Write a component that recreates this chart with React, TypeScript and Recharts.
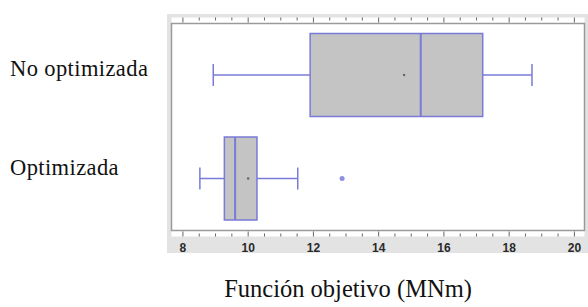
import { ComposedChart, Bar, XAxis, YAxis, CartesianGrid, ReferenceArea } from "recharts";

const categories = ["No optimizada", "Optimizada"];
const whiskerLow = [8.93, 8.52];
const q1 = [11.9, 9.27];
const median = [15.29, 9.6];
const q3 = [17.19, 10.27];
const whiskerHigh = [18.7, 11.52];
const means = [14.78, 10.0];
const outliers: number[][] = [[], [12.88]];

const xTicks = [8, 8.5, 9, 9.5, 10, 10.5, 11, 11.5, 12, 12.5, 13, 13.5, 14, 14.5, 15, 15.5, 16, 16.5, 17, 17.5, 18, 18.5, 19, 19.5, 20];
const xLabels = [8, 10, 12, 14, 16, 18, 20];
const xDomain = [7.65, 20.31];

const data = categories.map((name, i) => ({
  name,
  low: whiskerLow[i],
  q1: q1[i],
  median: median[i],
  q3: q3[i],
  high: whiskerHigh[i],
  mean: means[i],
  outliers: outliers[i],
}));

const BOX_STROKE = "#7a7ad8";
const BOX_FILL = "#c4c4c4";

function BoxShape(props: any) {
  const { x, y, width, height, payload } = props;
  const k = width / (payload.high - payload.low);
  const px = (v: number) => x + (v - payload.low) * k;
  const cy = y + height / 2;
  const cap = 11;
  return (
    <g>
      <line x1={px(payload.low)} x2={px(payload.q1)} y1={cy} y2={cy} stroke={BOX_STROKE} strokeWidth={1.5} />
      <line x1={px(payload.q3)} x2={px(payload.high)} y1={cy} y2={cy} stroke={BOX_STROKE} strokeWidth={1.5} />
      <line x1={px(payload.low)} x2={px(payload.low)} y1={cy - cap} y2={cy + cap} stroke={BOX_STROKE} strokeWidth={1.5} />
      <line x1={px(payload.high)} x2={px(payload.high)} y1={cy - cap} y2={cy + cap} stroke={BOX_STROKE} strokeWidth={1.5} />
      <rect
        x={px(payload.q1)}
        y={y}
        width={px(payload.q3) - px(payload.q1)}
        height={height}
        fill={BOX_FILL}
        stroke={BOX_STROKE}
        strokeWidth={1.5}
      />
      <line x1={px(payload.median)} x2={px(payload.median)} y1={y} y2={y + height} stroke={BOX_STROKE} strokeWidth={2} />
      <circle cx={px(payload.mean)} cy={cy} r={1.2} fill="#666" />
      {payload.outliers.map((o: number, i: number) => (
        <circle key={i} cx={px(o)} cy={cy} r={2.5} fill="#9090e0" />
      ))}
    </g>
  );
}

function BottomTick(props: any) {
  const { x, y, payload } = props;
  const major = xLabels.includes(payload.value);
  return (
    <g>
      <line x1={x} x2={x} y1={y} y2={y - (major ? 5 : 3)} stroke="#666" />
      {major && (
        <text
          x={x}
          y={y + 15}
          textAnchor="middle"
          fontSize={12}
          fontWeight="bold"
          fontFamily="Liberation Sans, Arial"
          fill="#2a2a2a"
        >
          {payload.value}
        </text>
      )}
    </g>
  );
}

function TopTick(props: any) {
  const { x, y, payload } = props;
  const major = xLabels.includes(payload.value);
  return <line x1={x} x2={x} y1={y} y2={y + (major ? 5 : 3)} stroke="#666" />;
}

const labelShift = [1, -3.5];

function CategoryTick(props: any) {
  const { y, payload, index } = props;
  return (
    <text
      x={10}
      y={y + labelShift[index]}
      fontSize={22.5}
      letterSpacing={0.4}
      fontFamily="Liberation Serif, Times New Roman, serif"
      fill="#111"
    >
      {payload.value}
    </text>
  );
}

function AxisTitle(props: any) {
  const { viewBox } = props;
  return (
    <text
      x={viewBox.x + viewBox.width / 2 - 30}
      y={296.5}
      textAnchor="middle"
      fontSize={24.5}
      fontFamily="Liberation Serif, Times New Roman, serif"
      fill="#111"
    >
      Función objetivo (MNm)
    </text>
  );
}

export default function App() {
  return (
    <div style={{ position: "absolute", left: 0, top: 0, width: 588, height: 307, background: "#fff" }}>
      <div style={{ position: "absolute", left: 167, top: 14, width: 421, height: 239, background: "#e3e3e3" }} />
      <div style={{ position: "absolute", left: 0, top: 0 }}>
        <ComposedChart
          width={588}
          height={307}
          data={data}
          layout="vertical"
          margin={{ top: 16.5, right: 3.5, bottom: 0, left: 0 }}
        >
          <CartesianGrid fill="#fff" horizontal={false} vertical={false} />
          <XAxis
            type="number"
            domain={xDomain}
            allowDataOverflow
            ticks={xTicks}
            interval={0}
            height={70.5}
            axisLine={false}
            tickLine={false}
            tickSize={0}
            tickMargin={0}
            tick={<BottomTick />}
            label={<AxisTitle />}
          />
          <XAxis
            xAxisId="top"
            orientation="top"
            type="number"
            domain={xDomain}
            allowDataOverflow
            ticks={xTicks}
            interval={0}
            height={1}
            axisLine={false}
            tickLine={false}
            tickSize={0}
            tickMargin={0}
            tick={<TopTick />}
          />
          <YAxis
            type="category"
            dataKey="name"
            width={171.5}
            axisLine={false}
            tickLine={false}
            padding={{ top: 6, bottom: 6 }}
            tick={<CategoryTick />}
          />
          <ReferenceArea x1={xDomain[0]} x2={xDomain[1]} fill="none" stroke="#9a9a9a" strokeWidth={1.5} ifOverflow="extendDomain" />
          <Bar
            dataKey={(d: any) => [d.low, d.high]}
            barSize={83}
            shape={<BoxShape />}
            isAnimationActive={false}
          />
        </ComposedChart>
      </div>
    </div>
  );
}
